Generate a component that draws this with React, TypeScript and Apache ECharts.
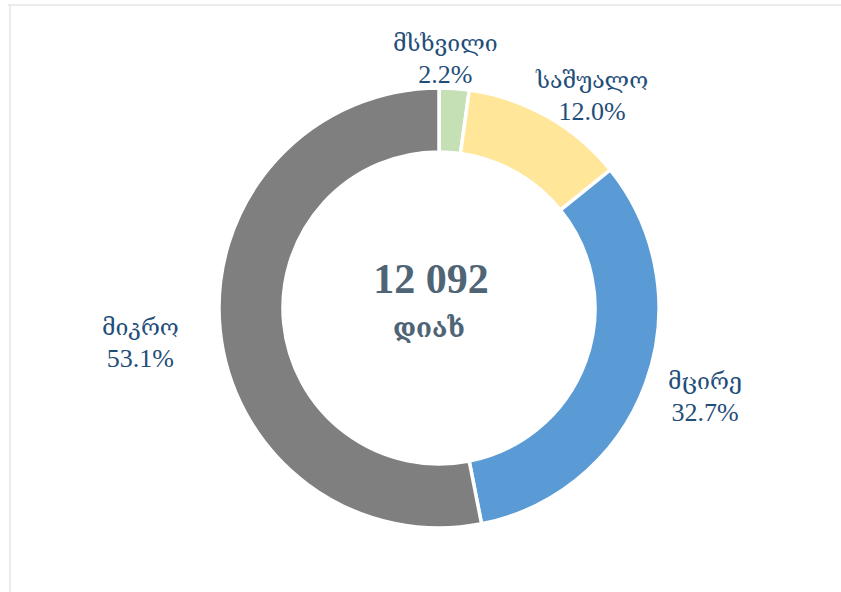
import React, { useEffect, useRef } from "react";
import * as echarts from "echarts";

const categories = ["მსხვილი", "საშუალო", "მცირე", "მიკრო"];
const shares = [2.2, 12.0, 32.7, 53.1];
const colors = ["#C5E0B4", "#FFE699", "#5B9BD5", "#7F7F7F"];
const totalCount = 12092;
const totalLabel = "დიახ";

// label placement: radial distance from centre and small tweaks (styling)
const labelDist = [250, 262, 283, 300];
const labelTweak = [
  [-11, 0],
  [24, 16],
  [0, -8],
  [0, 6],
];

const CX = 439;
const CY = 308;

export default function App() {
  const ref = useRef<HTMLDivElement>(null);
  useEffect(() => {
    if (!ref.current) return;
    const chart = echarts.init(ref.current, undefined, { renderer: "svg" });
    const sum = shares.reduce((a, b) => a + b, 0);
    const mids: number[] = [];
    let acc = 0;
    shares.forEach((v) => {
      mids.push(((acc + v / 2) / sum) * 2 * Math.PI);
      acc += v;
    });
    const font = "'Liberation Serif', 'DejaVu Serif', serif";
    const fmtTotal = String(totalCount).replace(/\B(?=(\d{3})+(?!\d))/g, " ");
    chart.setOption({
      animation: false,
      backgroundColor: "#ffffff",
      graphic: [
        {
          type: "line",
          shape: { x1: 8, y1: 5, x2: 841, y2: 5 },
          style: { stroke: "#EBEBEB", lineWidth: 2 },
          silent: true,
        },
        {
          type: "line",
          shape: { x1: 10, y1: 5, x2: 10, y2: 592 },
          style: { stroke: "#EBEBEB", lineWidth: 2 },
          silent: true,
        },
        {
          type: "text",
          x: CX - 8,
          y: 279,
          style: {
            text: fmtTotal,
            fill: "#4F6475",
            font: `bold 42px ${font}`,
            textAlign: "center",
            textVerticalAlign: "middle",
          },
        },
        {
          type: "text",
          x: CX - 10,
          y: 328,
          style: {
            text: totalLabel,
            fill: "#4F6475",
            font: `bold 26px ${font}`,
            textAlign: "center",
            textVerticalAlign: "middle",
          },
        },
      ],
      series: [
        {
          type: "pie",
          center: [CX, CY],
          radius: [156, 220],
          startAngle: 90,
          clockwise: true,
          silent: true,
          itemStyle: { borderColor: "#ffffff", borderWidth: 3.5 },
          label: {
            show: true,
            position: "outside",
            formatter: (p: any) => `{n|${p.name}}\n{v|${p.value.toFixed(1)}%}`,
            color: "#1F4E79",
            fontFamily: font,
            align: "center",
            rich: {
              n: { fontFamily: font, fontSize: 23, lineHeight: 31, color: "#1F4E79", align: "center" },
              v: { fontFamily: font, fontSize: 26, lineHeight: 31, color: "#1F4E79", align: "center" },
            },
          },
          labelLine: { show: false },
          labelLayout: (params: any) => {
            const i = params.dataIndex;
            const a = mids[i];
            const r = labelDist[i];
            return {
              x: CX + r * Math.sin(a) + labelTweak[i][0],
              y: CY - r * Math.cos(a) + labelTweak[i][1],
              align: "center",
              verticalAlign: "middle",
            };
          },
          data: categories.map((name, i) => ({
            name,
            value: shares[i],
            itemStyle: { color: colors[i] },
          })),
        },
      ],
    });
    return () => chart.dispose();
  }, []);
  return (
    <div
      ref={ref}
      style={{ position: "absolute", left: 0, top: 0, width: 841, height: 592 }}
    />
  );
}
